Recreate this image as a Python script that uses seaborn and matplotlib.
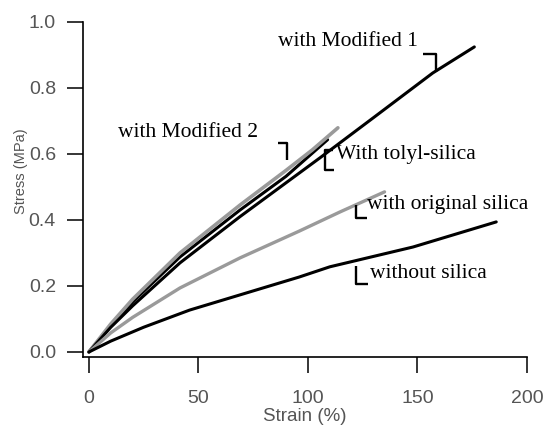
import pandas as pd
import seaborn as sns
import matplotlib
matplotlib.use('Agg')
import matplotlib.pyplot as plt

# stress-strain curves (strain in %, stress in MPa)
strain_mod2 = [0, 10, 20, 41.6, 69, 90, 102, 113.7]
stress_mod2 = [0, 0.085, 0.16, 0.30, 0.445, 0.55, 0.612, 0.679]

strain_tolyl = [0, 10, 20, 41.6, 69, 90, 109]
stress_tolyl = [0, 0.08, 0.152, 0.288, 0.43, 0.532, 0.643]

strain_mod1 = [0, 10, 20, 41.6, 69, 105.5, 130, 157, 176]
stress_mod1 = [0, 0.075, 0.14, 0.27, 0.41, 0.588, 0.71, 0.845, 0.924]

strain_orig = [0, 10, 20, 41.6, 69, 96, 114.6, 135]
stress_orig = [0, 0.058, 0.105, 0.194, 0.285, 0.366, 0.424, 0.485]

strain_none = [0, 10, 25, 46, 69, 96, 110, 148, 186]
stress_none = [0, 0.033, 0.075, 0.127, 0.173, 0.227, 0.258, 0.318, 0.394]

# labels: text, left edge x, centre y
labels = ['with Modified 1', 'with Modified 2', 'With tolyl-silica',
          'with original silica', 'without silica']
label_x = [86.3, 13.2, 112.8, 127, 128.3]
label_y = [0.939, 0.664, 0.597, 0.448, 0.239]

x_ticks = [0, 50, 100, 150, 200]
y_ticks = [0.0, 0.2, 0.4, 0.6, 0.8, 1.0]

sns.set_style('ticks')
fig = plt.figure(figsize=(5.46, 4.28), dpi=100)
ax = fig.add_axes([0.152, 0.166, 0.813, 0.783])

black = '#000000'
grey = '#9a9a9a'

sns.lineplot(x=strain_tolyl, y=stress_tolyl, color=black, lw=2.2, sort=False, ax=ax)
sns.lineplot(x=strain_mod2, y=stress_mod2, color=grey, lw=2.6, sort=False, ax=ax)
sns.lineplot(x=strain_mod1, y=stress_mod1, color=black, lw=2.2, sort=False, ax=ax)
sns.lineplot(x=strain_orig, y=stress_orig, color=grey, lw=2.4, sort=False, ax=ax)
sns.lineplot(x=strain_none, y=stress_none, color=black, lw=2.2, sort=False, ax=ax)

# little brackets tying labels to curves
brk = dict(color='black', lw=1.7, solid_capstyle='butt')
ax.plot([152.5, 158.4, 158.4], [0.903, 0.903, 0.848], **brk)
ax.plot([86.3, 90.4, 90.4], [0.633, 0.633, 0.582], **brk)
ax.plot([111.5, 107.8, 107.8, 112.0], [0.612, 0.612, 0.552, 0.552], **brk)
ax.plot([121.9, 121.9, 126.9], [0.445, 0.406, 0.406], **brk)
ax.plot([121.9, 121.9, 127.4], [0.261, 0.206, 0.206], **brk)

for t, x, y in zip(labels, label_x, label_y):
    ax.text(x, y, t, ha='left', va='center', fontsize=15.5,
            family='Liberation Serif', color='black')

ax.set_xlim(-2.7, 200)
ax.set_ylim(-0.015, 1.0)
ax.set_xticks(x_ticks)
ax.set_yticks(y_ticks)
ax.set_xticklabels([str(v) for v in x_ticks])
ax.set_yticklabels(['%.1f' % v for v in y_ticks])

for s in ['top', 'right']:
    ax.spines[s].set_visible(False)
for s in ['left', 'bottom']:
    ax.spines[s].set_linewidth(1.2)
    ax.spines[s].set_color('black')

ax.tick_params(axis='both', direction='out', length=11.5, width=1.1,
               color='black', labelsize=14, labelcolor='#555555')
ax.tick_params(axis='y', pad=8)
ax.tick_params(axis='x', pad=12)
for lab in ax.get_xticklabels() + ax.get_yticklabels():
    lab.set_family('Liberation Sans')

ax.set_xlabel('Strain (%)', fontsize=13.5, color='#555555',
              family='Liberation Sans', labelpad=1)
ax.set_ylabel('Stress (MPa)', fontsize=10.5, color='#555555',
              family='Liberation Sans')
ax.yaxis.set_label_coords(-0.124, 0.555)

fig.savefig('out.png', dpi=100)
